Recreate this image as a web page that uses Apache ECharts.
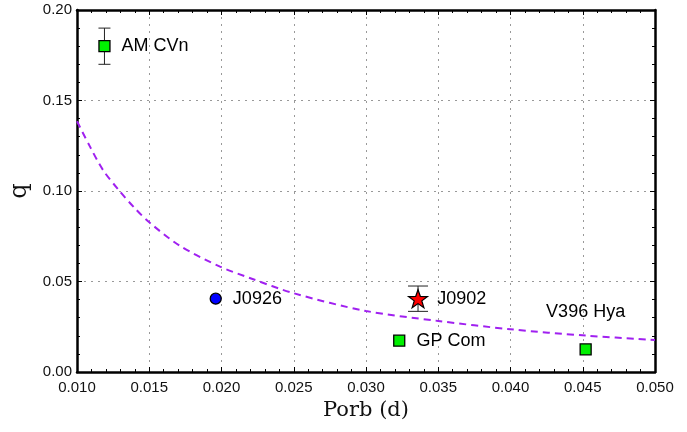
<!DOCTYPE html>
<html>
<head>
<meta charset="utf-8">
<script src="https://cdn.jsdelivr.net/npm/echarts@6/dist/echarts.min.js"></script>
<style>html,body{margin:0;padding:0;background:#fff}#c{width:687px;height:432px}</style>
</head>
<body>
<div id="c"></div>
<script>
// ---- data ----
const names = ['AM CVn', 'J0926', 'J0902', 'GP Com', 'V396 Hya'];
const porb  = [0.0119, 0.0196, 0.0336, 0.0323, 0.0452];
const qVal  = [0.180, 0.0405, 0.0405, 0.0173, 0.0125];
const qErr  = [0.010, null, 0.007, null, null];
// dashed model curve
const curveP = [0.0100, 0.0109, 0.0118, 0.0129, 0.0140, 0.0150, 0.0171, 0.0199, 0.0220, 0.0250, 0.0300, 0.0350, 0.0400, 0.0452, 0.0500];
const curveQ = [0.1385, 0.1245, 0.1116, 0.1004, 0.0905, 0.0827, 0.0698, 0.0582, 0.0518, 0.0435, 0.0337, 0.0282, 0.0236, 0.0201, 0.0177];
const xTicks = [0.010, 0.015, 0.020, 0.025, 0.030, 0.035, 0.040, 0.045, 0.050];
const yTicks = [0.00, 0.05, 0.10, 0.15, 0.20];

const squareIdx = [0, 3, 4];
const circleIdx = [1];
const starIdx = [2];
const labelFont = {fontFamily: 'Liberation Sans, Arial, sans-serif', fontSize: 18, color: '#000'};

function pt(i) { return {value: [porb[i], qVal[i]], name: names[i]}; }

const starPath = 'path://M0,-10 L2.35,-3.24 L9.51,-3.09 L3.8,1.24 L5.88,8.09 L0,4 L-5.88,8.09 L-3.8,1.24 L-9.51,-3.09 L-2.35,-3.24 Z';

const chart = echarts.init(document.getElementById('c'), null, {renderer: 'canvas'});
const tickFont = {fontFamily: 'Liberation Sans, Arial, sans-serif', fontSize: 15, color: '#111'};
const baseAxisX = {
  type: 'value', min: xTicks[0], max: xTicks[xTicks.length - 1], interval: 0.005,
  axisLine: {onZero: false, lineStyle: {color: '#000', width: 2.5}},
  axisTick: {inside: true, length: 5, lineStyle: {color: '#000', width: 1}},
  minorTick: {show: true, splitNumber: 5, length: 3, lineStyle: {color: '#000', width: 1}}
};
const baseAxisY = {
  type: 'value', min: yTicks[0], max: yTicks[yTicks.length - 1], interval: 0.05,
  axisLine: {onZero: false, lineStyle: {color: '#000', width: 2.5}},
  axisTick: {inside: true, length: 5, lineStyle: {color: '#000', width: 1}},
  minorTick: {show: true, splitNumber: 5, length: 3, lineStyle: {color: '#000', width: 1}}
};

const capHalf = [6, 0, 10, 0, 0];

chart.setOption({
  animation: false,
  backgroundColor: '#fff',
  grid: {left: 77, right: 32, top: 10, bottom: 60, containLabel: false, outerBoundsMode: 'none'},
  xAxis: [
    Object.assign({}, baseAxisX, {
      position: 'bottom',
      name: 'Porb (d)', nameLocation: 'middle', nameGap: 24,
      nameTextStyle: {fontFamily: 'DejaVu Serif, serif', fontSize: 21, color: '#111'},
      axisLabel: Object.assign({margin: 8, formatter: v => v.toFixed(3)}, tickFont),
      splitLine: {show: true, lineStyle: {color: '#999', type: [2, 5], width: 1}}
    }),
    Object.assign({}, baseAxisX, {
      position: 'top', axisLabel: {show: false}, splitLine: {show: false}
    })
  ],
  yAxis: [
    Object.assign({}, baseAxisY, {
      position: 'left',
      name: 'q', nameLocation: 'middle', nameGap: 45,
      nameTextStyle: {fontFamily: 'DejaVu Serif, serif', fontSize: 24, color: '#111'},
      axisLabel: Object.assign({margin: 5, formatter: v => v.toFixed(2)}, tickFont),
      splitLine: {show: true, lineStyle: {color: '#999', type: [2, 5], width: 1}}
    }),
    Object.assign({}, baseAxisY, {
      position: 'right', axisLabel: {show: false}, splitLine: {show: false}
    })
  ],
  series: [
    {
      type: 'line', xAxisIndex: 0, yAxisIndex: 0, z: 2,
      data: curveP.map((p, i) => [p, curveQ[i]]),
      smooth: 0.3, showSymbol: false, symbol: 'none',
      lineStyle: {color: '#a020f0', width: 2, type: [7, 5]}
    },
    {
      type: 'custom', xAxisIndex: 0, yAxisIndex: 0, z: 3,
      data: porb.map((p, i) => qErr[i] == null ? null : [p, qVal[i] - qErr[i], qVal[i] + qErr[i], i]).filter(d => d),
      renderItem: function (params, api) {
        const lo = api.coord([api.value(0), api.value(1)]);
        const hi = api.coord([api.value(0), api.value(2)]);
        const w = capHalf[api.value(3)];
        const st = {stroke: '#222', lineWidth: 1};
        return {type: 'group', children: [
          {type: 'line', shape: {x1: lo[0], y1: lo[1], x2: hi[0], y2: hi[1]}, style: st},
          {type: 'line', shape: {x1: lo[0] - w, y1: lo[1], x2: lo[0] + w, y2: lo[1]}, style: st},
          {type: 'line', shape: {x1: hi[0] - w, y1: hi[1], x2: hi[0] + w, y2: hi[1]}, style: st}
        ]};
      }
    },
    {
      type: 'scatter', xAxisIndex: 0, yAxisIndex: 0, z: 5,
      symbol: 'rect', symbolSize: 11,
      itemStyle: {color: '#00f000', borderColor: '#000', borderWidth: 1.3, opacity: 1},
      data: squareIdx.map(i => {
        const d = pt(i);
        if (names[i] === 'V396 Hya') d.label = {position: 'top', distance: 22};
        return d;
      }),
      label: Object.assign({show: true, position: 'right', distance: 11, formatter: '{b}'}, labelFont)
    },
    {
      type: 'scatter', xAxisIndex: 0, yAxisIndex: 0, z: 5,
      symbol: 'circle', symbolSize: 11,
      itemStyle: {color: '#0000ff', borderColor: '#000', borderWidth: 1.3, opacity: 1},
      data: circleIdx.map(pt),
      label: Object.assign({show: true, position: 'right', distance: 11, formatter: '{b}'}, labelFont)
    },
    {
      type: 'scatter', xAxisIndex: 0, yAxisIndex: 0, z: 5,
      symbol: starPath, symbolSize: [19, 18],
      itemStyle: {color: '#ff0000', borderColor: '#000', borderWidth: 1.2, opacity: 1},
      data: starIdx.map(pt),
      label: Object.assign({show: true, position: 'right', distance: 9, formatter: '{b}'}, labelFont)
    }
  ]
});
</script>
</body>
</html>
